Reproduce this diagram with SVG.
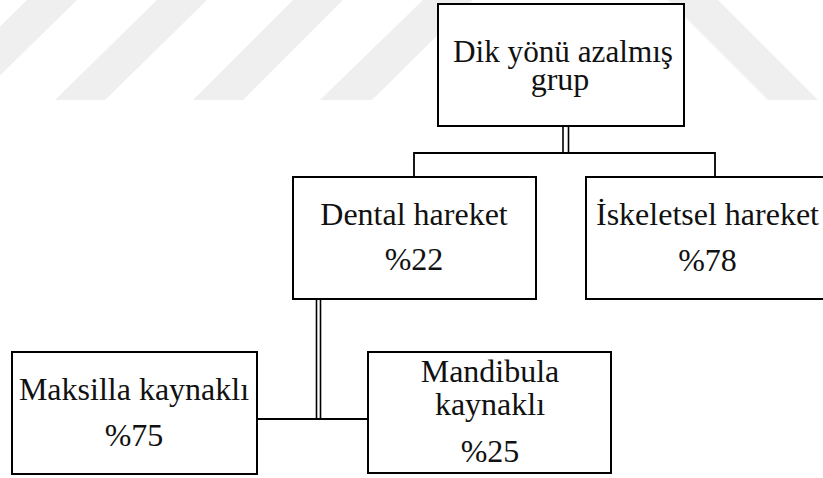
<svg xmlns="http://www.w3.org/2000/svg" width="823" height="478" viewBox="0 0 823 478">
<style>
.wm{fill:#efefef;stroke:none}
.box{fill:#ffffff;stroke:#000;stroke-width:2}
.ln{fill:none;stroke:#000;stroke-width:1.8}
.ln2{fill:none;stroke:#000;stroke-width:1.6}
text{font-family:"Liberation Serif","Times New Roman",serif;font-size:32px;fill:#111;text-anchor:middle}
</style>
<rect width="823" height="478" fill="#ffffff"/>
<g id="watermark">
<polygon class="wm" points="27,0 77,0 -25,100 -75,100"/>
<polygon class="wm" points="157,0 207,0 105,100 55,100"/>
<polygon class="wm" points="293,0 343,0 243,100 193,100"/>
<polygon class="wm" points="423,0 473,0 372,100 320,100"/>
<polygon class="wm" points="668,0 718,0 818,100 768,100"/>
</g>
<g id="connectors">
<line class="ln2" x1="563" y1="126" x2="563" y2="153"/>
<line class="ln2" x1="568.5" y1="126" x2="568.5" y2="153"/>
<polyline class="ln" points="414,177 414,153 715,153 715,177"/>
<line class="ln2" x1="316.5" y1="299" x2="316.5" y2="419"/>
<line class="ln2" x1="320.5" y1="299" x2="320.5" y2="419"/>
<line class="ln" x1="257" y1="419" x2="368" y2="419"/>
</g>
<g id="node-dik">
<rect class="box" x="438" y="4" width="246" height="122"/>
<text x="563" y="62" textLength="220" lengthAdjust="spacingAndGlyphs">Dik yönü azalmış</text>
<text x="560" y="90">grup</text>
</g>
<g id="node-dental">
<rect class="box" x="293" y="177" width="243" height="122"/>
<text x="414" y="225">Dental hareket</text>
<text x="414" y="270">%22</text>
</g>
<g id="node-iskeletsel">
<rect class="box" x="586" y="177" width="243" height="122"/>
<text x="707.5" y="225">İskeletsel hareket</text>
<text x="707.5" y="271">%78</text>
</g>
<g id="node-maksilla">
<rect class="box" x="12" y="352" width="245" height="122"/>
<text x="134" y="400">Maksilla kaynaklı</text>
<text x="134" y="446">%75</text>
</g>
<g id="node-mandibula">
<rect class="box" x="368" y="352" width="243" height="121"/>
<text x="490" y="382">Mandibula</text>
<text x="490" y="415">kaynaklı</text>
<text x="490" y="462">%25</text>
</g>
</svg>
